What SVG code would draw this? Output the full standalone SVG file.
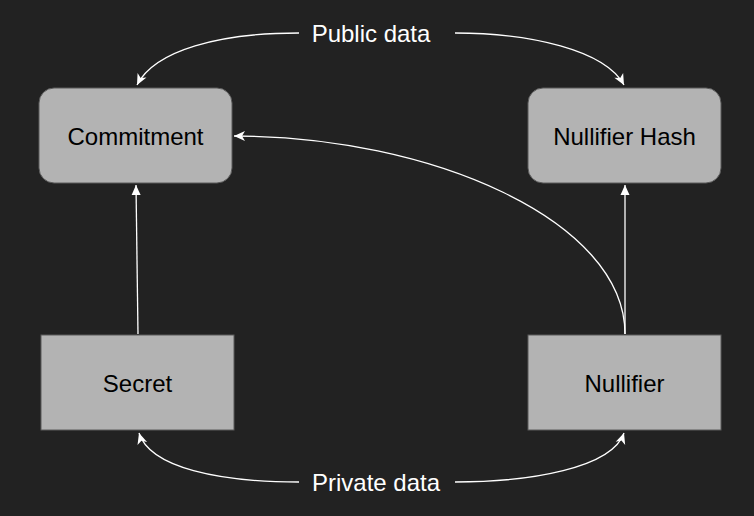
<svg xmlns="http://www.w3.org/2000/svg" width="754" height="516" viewBox="0 0 754 516">
<style>
.box{fill:#b3b3b3;stroke:#5a5a5a;stroke-width:1}
.lbl{font-family:"Liberation Sans",Arial,sans-serif;font-size:24px;fill:#000;text-anchor:middle;dominant-baseline:central}
.flbl{font-family:"Liberation Sans",Arial,sans-serif;font-size:24px;fill:#fff;text-anchor:middle;dominant-baseline:central}
.edge{fill:none;stroke:#fff;stroke-width:1.3}
</style>
<defs>
<marker id="classic" markerUnits="userSpaceOnUse" markerWidth="14" markerHeight="12" viewBox="-12 -6 14 12" refX="0" refY="0" orient="auto">
<path d="M0,0 L-11,-5 L-8,0 L-11,5 Z" fill="#fff"/>
</marker>
<marker id="block" markerUnits="userSpaceOnUse" markerWidth="14" markerHeight="12" viewBox="-12 -6 14 12" refX="0" refY="0" orient="auto">
<path d="M0,0 L-10,-4.5 L-10,4.5 Z" fill="#fff"/>
</marker>
</defs>
<rect width="754" height="516" fill="#222222"/>
<g id="connectors">
<path class="edge" d="M299,33 C220,33 155,50 137,85" marker-end="url(#classic)"/>
<path class="edge" d="M455,33 C530,33 605,50 624,85" marker-end="url(#classic)"/>
<path class="edge" d="M299,482 C220,482 150,468 139,433" marker-end="url(#classic)"/>
<path class="edge" d="M455,482 C530,482 612,468 624,433" marker-end="url(#classic)"/>
<path class="edge" d="M138,334 L136,185" marker-end="url(#block)"/>
<path class="edge" d="M625,334 L625,185" marker-end="url(#block)"/>
<path class="edge" d="M625,334 C625,220 430,136 234,136" marker-end="url(#classic)"/>
</g>
<g id="public-data"><text class="flbl" x="371" y="33">Public data</text></g>
<g id="private-data"><text class="flbl" x="376" y="482">Private data</text></g>
<g id="commitment"><rect class="box" x="39" y="88" width="193" height="95" rx="15"/><text class="lbl" x="135.5" y="136">Commitment</text></g>
<g id="nullifier-hash"><rect class="box" x="528" y="88" width="193" height="95" rx="15"/><text class="lbl" x="624.5" y="136">Nullifier Hash</text></g>
<g id="secret"><rect class="box" x="41" y="335" width="193" height="95"/><text class="lbl" x="137.5" y="383">Secret</text></g>
<g id="nullifier"><rect class="box" x="528" y="335" width="193" height="95"/><text class="lbl" x="624.5" y="383">Nullifier</text></g>
</svg>
